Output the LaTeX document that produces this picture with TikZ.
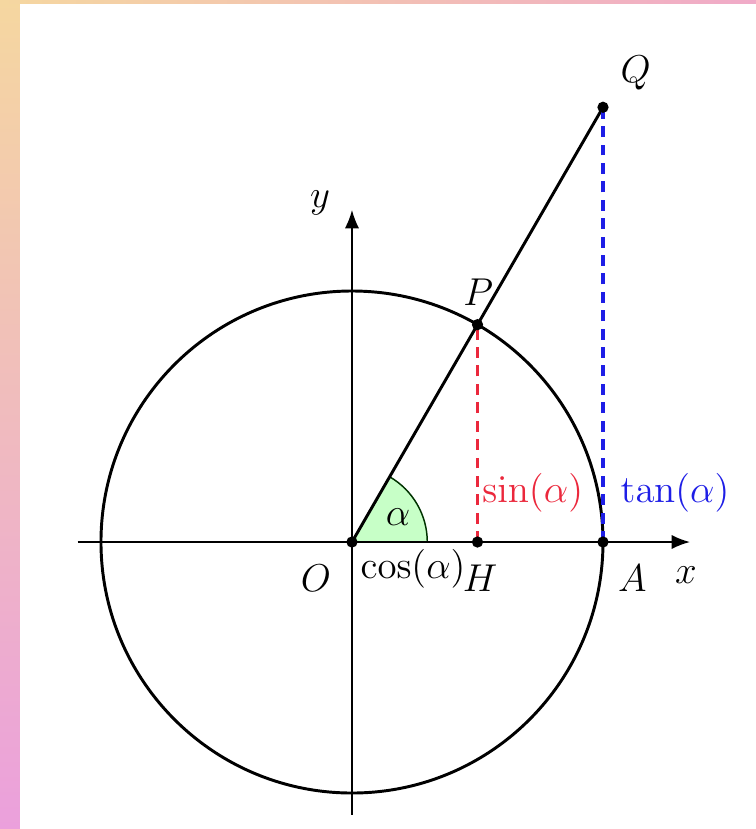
\documentclass[tikz,border=0pt]{standalone}
\usetikzlibrary{arrows.meta}
\begin{document}
\begin{tikzpicture}[x=1cm,y=1cm,
  dot/.style={circle,fill=black,inner sep=0pt,minimum size=1.35mm},
  lbl/.style={font=\large,scale=1.1,inner sep=1pt},
  axisline/.style={line width=0.6pt,-{Latex[length=2.2mm,width=1.7mm]}},
  mainline/.style={line width=1pt},
  dashline/.style={line width=1.1pt,dash pattern=on 1.3mm off 0.9mm}
]
\definecolor{sinred}{RGB}{235,40,60}
\definecolor{tanblue}{RGB}{30,30,230}
\definecolor{bgpink}{RGB}{240,170,200}
\definecolor{bgyellow}{RGB}{245,215,160}
\definecolor{bgmag}{RGB}{235,160,220}
\useasboundingbox (-4.207,-3.430) rectangle (4.828,6.478);
% background border
\shade[top color=bgyellow, middle color=bgpink, bottom color=bgmag]
  (-4.207,-3.430) rectangle (-3.968,6.478);
\shade[left color=bgyellow, right color=bgpink]
  (-4.207,6.440) rectangle (4.828,6.478);
% points
\coordinate (O) at (0,0);
\coordinate (A) at (3,0);
\coordinate (H) at (1.5,0);
\coordinate (P) at (60:3);
\coordinate (Q) at (3,5.196);
\coordinate (xs) at (-3.28,0);
\coordinate (xe) at (4.04,0);
\coordinate (ys) at (0,-3.26);
\coordinate (ye) at (0,3.97);
% angle
\filldraw[fill=green!22,draw=black!80!green,line width=0.5pt] (O) -- (0.9,0) arc (0:60:0.9) -- cycle;
% axes
\draw[axisline] (xs) -- (xe);
\draw[axisline] (ys) -- (ye);
% circle
\draw[mainline] (O) circle (3);
% lines
\draw[mainline] (O) -- (Q);
\draw[dashline,sinred] (H) -- (P);
\draw[dashline,tanblue] (A) -- (Q);
% dots
\node[dot] (dO) at (O) {};
\node[dot] (dH) at (H) {};
\node[dot] (dA) at (A) {};
\node[dot] (dP) at (P) {};
\node[dot] (dQ) at (Q) {};
% labels
\node[lbl] (lO) at (-0.43,-0.43) {$O$};
\node[lbl] (lcos) at (0.73,-0.32) {$\cos(\alpha)$};
\node[lbl] (lH) at (1.53,-0.43) {$H$};
\node[lbl] (lA) at (3.35,-0.43) {$A$};
\node[lbl] (lx) at (3.99,-0.39) {$x$};
\node[lbl] (ly) at (-0.38,4.05) {$y$};
\node[lbl] (lP) at (1.51,2.98) {$P$};
\node[lbl] (lQ) at (3.39,5.61) {$Q$};
\node[lbl,text=sinred] (lsin) at (2.16,0.585) {$\sin(\alpha)$};
\node[lbl,text=tanblue] (ltan) at (3.86,0.585) {$\tan(\alpha)$};
\node[lbl] (lalpha) at (0.55,0.30) {$\alpha$};
\end{tikzpicture}
\end{document}
